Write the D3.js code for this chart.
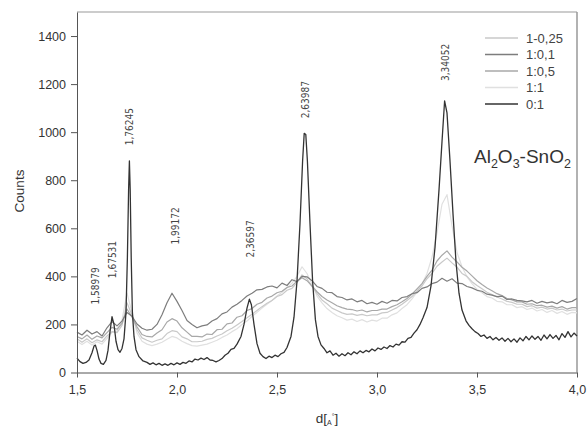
<!DOCTYPE html>
<html>
<head>
<meta charset="utf-8">
<script src="https://cdn.jsdelivr.net/npm/d3@7/dist/d3.min.js"></script>
<style>
  body { margin: 0; background: #fff; }
  text { font-family: "Liberation Sans", Arial, sans-serif; }
  .axis text { font-size: 12.5px; fill: #333; }
  .axis path, .axis line { stroke: #555; }
  .peak { font-family: "Liberation Sans Narrow", "DejaVu Sans Condensed", "Liberation Sans", Arial, sans-serif; }
</style>
</head>
<body>
<div id="chart"></div>
<script>
// Data
const seriesNames = ['1-0,25', '1:0,1', '1:0,5', '1:1', '0:1']
const seriesColors = ['#c9c9c9', '#7d7d7d', '#a8a8a8', '#e0e0e0', '#333']

// common d grid for the four mixed samples (step 0.025 A)
const dGrid = d3.range(0, 101).map(i => +(1.5 + i * 0.025).toFixed(3))

const counts_1_025 = [
  140, 126, 140, 124, 136, 128, 152, 170, 166, 196, 290, 238, 178, 144, 134, 126,
  134, 140, 162, 174, 170, 148, 140, 128, 128, 130, 138, 142, 152, 160, 174, 184,
  198, 212, 228, 242, 258, 274, 288, 300, 316, 324, 342, 350, 374, 406, 390, 358,
  328, 302, 286, 268, 258, 248, 242, 244, 238, 242, 236, 240, 240, 248, 250, 260,
  270, 284, 300, 316, 340, 360, 390, 412, 442, 460, 476, 456, 438, 412, 400, 378,
  362, 348, 334, 324, 314, 306, 296, 292, 284, 284, 274, 278, 268, 272, 264, 268,
  260, 264, 256, 260, 260
]

const counts_1_01 = [
  168, 156, 176, 160, 170, 152, 186, 212, 194, 214, 250, 234, 202, 184, 176, 180,
  200, 240, 290, 330, 296, 258, 216, 200, 186, 194, 198, 214, 224, 244, 252, 272,
  284, 300, 318, 330, 344, 346, 356, 360, 352, 372, 362, 386, 378, 400, 398, 382,
  358, 350, 334, 332, 316, 312, 302, 306, 294, 300, 286, 292, 284, 296, 288, 300,
  298, 312, 316, 328, 332, 350, 356, 370, 376, 392, 380, 390, 372, 370, 358, 352,
  342, 338, 326, 322, 316, 318, 304, 306, 300, 298, 294, 300, 288, 296, 290, 294,
  286, 300, 292, 296, 308
]

const counts_1_05 = [
  150, 140, 156, 138, 152, 144, 166, 188, 180, 204, 264, 230, 190, 158, 150, 148,
  164, 178, 210, 224, 214, 186, 168, 150, 150, 148, 160, 158, 178, 180, 202, 206,
  230, 236, 258, 266, 284, 292, 310, 318, 332, 338, 354, 360, 380, 394, 382, 360,
  336, 316, 302, 290, 278, 270, 264, 262, 256, 260, 252, 258, 258, 264, 264, 274,
  282, 294, 308, 326, 348, 370, 400, 426, 464, 488, 506, 480, 460, 438, 422, 402,
  382, 366, 352, 340, 328, 320, 308, 302, 294, 294, 284, 286, 278, 280, 272, 276,
  268, 274, 264, 270, 270
]

const counts_1_1 = [
  130, 116, 130, 114, 128, 118, 142, 168, 172, 218, 330, 250, 165, 130, 118, 112,
  118, 126, 138, 150, 144, 130, 120, 112, 110, 114, 118, 126, 134, 146, 156, 170,
  182, 200, 214, 234, 250, 268, 284, 300, 318, 334, 352, 372, 400, 440, 412, 368,
  318, 290, 266, 250, 236, 228, 218, 222, 212, 220, 210, 218, 214, 226, 226, 240,
  248, 266, 282, 306, 334, 368, 412, 480, 580, 700, 740, 610, 500, 440, 398, 370,
  346, 332, 316, 310, 296, 294, 282, 282, 270, 274, 262, 268, 256, 262, 250, 258,
  246, 254, 242, 250, 248
]

// pure SnO2 (0:1) read as [d, counts] pairs, denser around the sharp peaks
const counts_0_1 = [
  [1.500, 60], [1.515, 45], [1.530, 38], [1.545, 42], [1.560, 52], [1.575, 82], [1.585, 110],
  [1.592, 114], [1.600, 92], [1.610, 56], [1.620, 38], [1.632, 34], [1.645, 50], [1.655, 92],
  [1.665, 170], [1.675, 232], [1.685, 200], [1.695, 130], [1.705, 95], [1.715, 84], [1.725, 100],
  [1.735, 140], [1.745, 250], [1.752, 480], [1.758, 760], [1.762, 880], [1.766, 760], [1.771, 480],
  [1.777, 250], [1.785, 150], [1.795, 95], [1.810, 66], [1.830, 48], [1.850, 42], [1.865, 34],
  [1.880, 40], [1.895, 32], [1.910, 38], [1.925, 30], [1.940, 36], [1.955, 30], [1.970, 38],
  [1.985, 32], [2.000, 40], [2.015, 34], [2.030, 42], [2.045, 38], [2.060, 48], [2.075, 44],
  [2.090, 56], [2.105, 52], [2.120, 60], [2.135, 54], [2.150, 62], [2.165, 52], [2.180, 50],
  [2.195, 44], [2.210, 50], [2.225, 58], [2.240, 72], [2.255, 80], [2.270, 96], [2.285, 100],
  [2.300, 118], [2.320, 150], [2.335, 200], [2.350, 268], [2.362, 305], [2.372, 282], [2.385, 200],
  [2.400, 120], [2.415, 80], [2.430, 66], [2.445, 58], [2.460, 68], [2.475, 62], [2.490, 72],
  [2.505, 66], [2.520, 78], [2.535, 84], [2.550, 104], [2.570, 150], [2.585, 230], [2.600, 380],
  [2.615, 620], [2.628, 880], [2.636, 995], [2.644, 990], [2.652, 880], [2.665, 620], [2.678, 380],
  [2.692, 220], [2.705, 150], [2.720, 115], [2.735, 100], [2.750, 82], [2.765, 90], [2.780, 72],
  [2.795, 80], [2.810, 68], [2.825, 78], [2.840, 70], [2.855, 82], [2.870, 74], [2.885, 86],
  [2.900, 78], [2.915, 90], [2.930, 82], [2.945, 92], [2.960, 86], [2.975, 98], [2.990, 90],
  [3.005, 102], [3.020, 96], [3.035, 106], [3.050, 100], [3.065, 112], [3.080, 106], [3.095, 118],
  [3.110, 114], [3.125, 128], [3.140, 126], [3.155, 142], [3.170, 146], [3.185, 164], [3.200, 178],
  [3.215, 200], [3.230, 228], [3.250, 270], [3.270, 360], [3.290, 520], [3.310, 760], [3.325, 960],
  [3.338, 1130], [3.350, 1080], [3.365, 880], [3.380, 660], [3.395, 460], [3.410, 330], [3.425, 260],
  [3.445, 215], [3.460, 196], [3.475, 182], [3.490, 170], [3.505, 162], [3.520, 150], [3.535, 156],
  [3.550, 142], [3.565, 150], [3.580, 136], [3.595, 146], [3.610, 134], [3.625, 144], [3.640, 130],
  [3.655, 142], [3.670, 128], [3.685, 140], [3.700, 126], [3.715, 144], [3.730, 132], [3.745, 150],
  [3.760, 136], [3.775, 152], [3.790, 138], [3.805, 150], [3.820, 134], [3.835, 156], [3.850, 140],
  [3.865, 158], [3.880, 142], [3.895, 154], [3.910, 136], [3.925, 162], [3.940, 146], [3.955, 170],
  [3.970, 148], [3.985, 164], [4.000, 152]
]

// peak annotations: d value, label, height (counts) of the label centre
const peakD = [1.58979, 1.67531, 1.76245, 1.99172, 2.36597, 2.63987, 3.34052]
const peakText = ['1,58979', '1,67531', '1,76245', '1,99172', '2,36597', '2,63987', '3,34052']
const peakLabelY = [360, 470, 1023, 610, 556, 1135, 1290]

const xTicks = [1.5, 2.0, 2.5, 3.0, 3.5, 4.0]
const yTicks = [0, 200, 400, 600, 800, 1000, 1200, 1400]

// Dimensions
const dimensions = {
  width: 587,
  height: 428,
  left: 77,
  top: 12,
  right: 10,
  bottom: 55.5
}
dimensions.ctrWidth = dimensions.width - dimensions.left - dimensions.right
dimensions.ctrHeight = dimensions.height - dimensions.top - dimensions.bottom

const svg = d3.select('#chart')
  .append('svg')
  .attr('width', dimensions.width)
  .attr('height', dimensions.height)

const ctr = svg.append('g')
  .attr('transform', `translate(${dimensions.left}, ${dimensions.top})`)

// scales
const xScale = d3.scaleLinear()
  .domain([1.5, 4.0])
  .range([0, dimensions.ctrWidth])

const yScale = d3.scaleLinear()
  .domain([0, 1500])
  .range([dimensions.ctrHeight, 0])

// frame (top and right in lighter grey)
ctr.append('line')
  .attr('x1', 0).attr('x2', dimensions.ctrWidth)
  .attr('y1', 0).attr('y2', 0)
  .attr('stroke', '#999')
ctr.append('line')
  .attr('x1', dimensions.ctrWidth).attr('x2', dimensions.ctrWidth)
  .attr('y1', 0).attr('y2', dimensions.ctrHeight)
  .attr('stroke', '#999')
  .attr('stroke-width', 1.5)

// lines
const line = d3.line()
  .x(d => xScale(d[0]))
  .y(d => yScale(d[1]))

const gridSeries = [counts_1_025, counts_1_01, counts_1_05, counts_1_1]
  .map(vals => vals.map((v, i) => [dGrid[i], v]))
const allSeries = [...gridSeries, counts_0_1]

// draw lighter ones underneath, pure SnO2 on top
const drawOrder = [3, 0, 2, 1, 4]
ctr.append('g')
  .selectAll('path')
  .data(drawOrder)
  .join('path')
  .attr('d', i => line(allSeries[i]))
  .attr('fill', 'none')
  .attr('stroke', i => seriesColors[i])
  .attr('stroke-width', i => i === 4 ? 1.3 : 1.2)
  .attr('stroke-linejoin', 'round')

// peak labels
ctr.append('g')
  .selectAll('text')
  .data(peakD)
  .join('text')
  .classed('peak', true)
  .attr('transform', (d, i) => `translate(${xScale(d) + 4}, ${yScale(peakLabelY[i])}) rotate(-90)`)
  .attr('text-anchor', 'middle')
  .attr('font-size', 10)
  .attr('fill', '#444')
  .text((d, i) => peakText[i])

// axes
const locale = d3.formatLocale({ decimal: ',', thousands: '', grouping: [3], currency: ['', ''] })

const xAxis = d3.axisBottom(xScale)
  .tickValues(xTicks)
  .tickFormat(locale.format('.1f'))
  .tickSize(5)
  .tickSizeOuter(0)
  .tickPadding(8)

ctr.append('g')
  .classed('axis', true)
  .attr('transform', `translate(0, ${dimensions.ctrHeight})`)
  .call(xAxis)

const yAxis = d3.axisLeft(yScale)
  .tickValues(yTicks)
  .tickFormat(d3.format('d'))
  .tickSize(6)
  .tickSizeOuter(0)
  .tickPadding(5)

ctr.append('g')
  .classed('axis', true)
  .call(yAxis)

// axis titles
svg.append('text')
  .attr('transform', `translate(24, 191) rotate(-90)`)
  .attr('text-anchor', 'middle')
  .attr('font-size', 13.5)
  .attr('fill', '#333')
  .text('Counts')

const xTitle = svg.append('text')
  .attr('x', dimensions.left + dimensions.ctrWidth / 2)
  .attr('y', 423)
  .attr('text-anchor', 'middle')
  .attr('font-size', 13.5)
  .attr('fill', '#333')
xTitle.append('tspan').text('d[')
xTitle.append('tspan').attr('font-size', 7).attr('dy', 2).text('A')
xTitle.append('tspan').attr('font-size', 7).attr('dy', -6).text('°')
xTitle.append('tspan').attr('dy', 4).text(']')

// legend
const legend = svg.append('g')
  .attr('transform', 'translate(485, 38)')

const legendRows = legend.selectAll('g')
  .data(seriesNames)
  .join('g')
  .attr('transform', (d, i) => `translate(0, ${i * 16.5})`)

legendRows.append('line')
  .attr('x1', 0).attr('x2', 33)
  .attr('stroke', (d, i) => seriesColors[i])
  .attr('stroke-width', 1.3)

legendRows.append('text')
  .attr('x', 41)
  .attr('dy', '0.35em')
  .attr('font-size', 13)
  .attr('fill', '#444')
  .text(d => d)

// compound label
const compound = svg.append('text')
  .attr('x', 474)
  .attr('y', 163)
  .attr('font-size', 19)
  .attr('fill', '#333')
const parts = [['Al', 0], ['2', 1], ['O', 0], ['3', 1], ['-SnO', 0], ['2', 1]]
parts.forEach(([t, sub], i) => {
  const prev = i > 0 ? parts[i - 1][1] : 0
  compound.append('tspan')
    .attr('font-size', sub ? 12.5 : 19)
    .attr('dy', sub && !prev ? 5 : (!sub && prev ? -5 : 0))
    .text(t)
})
</script>
</body>
</html>
